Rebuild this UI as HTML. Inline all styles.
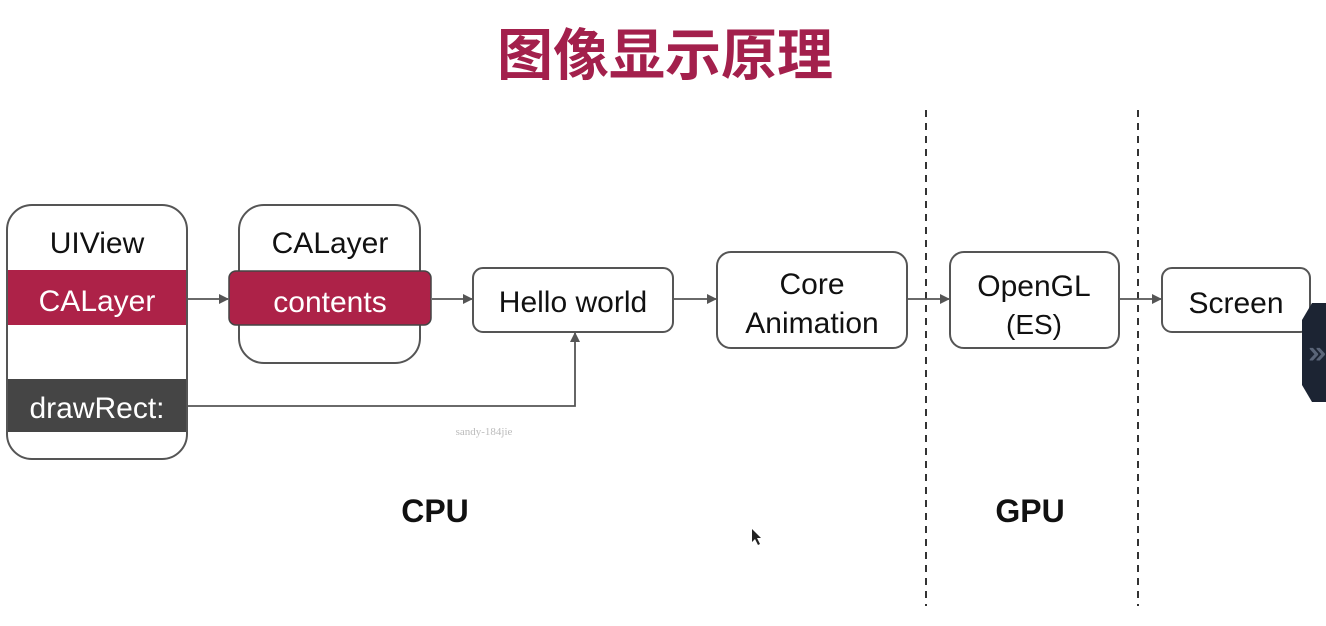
<!DOCTYPE html>
<html><head><meta charset="utf-8"><style>
html,body{margin:0;padding:0;background:#fff;width:1326px;height:626px;overflow:hidden}
svg text{font-family:"Liberation Sans","Noto Sans CJK SC",sans-serif}
</style></head><body>
<svg width="1326" height="626" viewBox="0 0 1326 626" xmlns="http://www.w3.org/2000/svg">
<defs><marker id="a" markerWidth="10" markerHeight="10" refX="9" refY="5" orient="auto" markerUnits="userSpaceOnUse"><path d="M0,0 L10,5 L0,10 z" fill="#555"/></marker></defs>
<rect width="1326" height="626" fill="#fff"/>
<text x="665" y="75" text-anchor="middle" font-size="56" font-weight="600" fill="#a3204c" style="font-family:'Noto Sans CJK SC',sans-serif">图像显示原理</text>
<line x1="926" y1="110" x2="926" y2="606" stroke="#333" stroke-width="2" stroke-dasharray="7,6"/>
<line x1="1138" y1="110" x2="1138" y2="606" stroke="#333" stroke-width="2" stroke-dasharray="7,6"/>
<rect x="7" y="205" width="180" height="254" rx="25" fill="#fff" stroke="#555" stroke-width="2"/>
<rect x="8" y="270" width="178" height="55" fill="#ad2248"/>
<rect x="8" y="379" width="178" height="53" fill="#454545"/>
<text x="97" y="253" text-anchor="middle" font-size="30" fill="#111">UIView</text>
<text x="97" y="311" text-anchor="middle" font-size="30" fill="#fff">CALayer</text>
<text x="97" y="418" text-anchor="middle" font-size="30" fill="#fff">drawRect:</text>
<rect x="239" y="205" width="181" height="158" rx="25" fill="#fff" stroke="#555" stroke-width="2"/>
<rect x="229" y="271" width="202" height="54" rx="7" fill="#ad2248" stroke="#444" stroke-width="1.5"/>
<text x="330" y="253" text-anchor="middle" font-size="30" fill="#111">CALayer</text>
<text x="330" y="312" text-anchor="middle" font-size="30" fill="#fff">contents</text>
<rect x="473" y="268" width="200" height="64" rx="10" fill="#fff" stroke="#555" stroke-width="2"/>
<text x="573" y="312" text-anchor="middle" font-size="30" fill="#111">Hello world</text>
<rect x="717" y="252" width="190" height="96" rx="14" fill="#fff" stroke="#555" stroke-width="2"/>
<text x="812" y="294" text-anchor="middle" font-size="30" fill="#111">Core</text>
<text x="812" y="333" text-anchor="middle" font-size="30" fill="#111">Animation</text>
<rect x="950" y="252" width="169" height="96" rx="14" fill="#fff" stroke="#555" stroke-width="2"/>
<text x="1034" y="296" text-anchor="middle" font-size="30" fill="#111">OpenGL</text>
<text x="1034" y="334" text-anchor="middle" font-size="28" fill="#111">(ES)</text>
<rect x="1162" y="268" width="148" height="64" rx="10" fill="#fff" stroke="#555" stroke-width="2"/>
<text x="1236" y="313" text-anchor="middle" font-size="30" fill="#111">Screen</text>
<g stroke="#555" stroke-width="1.8" fill="none">
<line x1="188" y1="299" x2="228" y2="299" marker-end="url(#a)"/>
<line x1="432" y1="299" x2="472" y2="299" marker-end="url(#a)"/>
<line x1="674" y1="299" x2="716" y2="299" marker-end="url(#a)"/>
<line x1="908" y1="299" x2="949" y2="299" marker-end="url(#a)"/>
<line x1="1120" y1="299" x2="1161" y2="299" marker-end="url(#a)"/>
<polyline points="187,406 575,406 575,333" marker-end="url(#a)"/>
</g>
<text x="484" y="435" text-anchor="middle" font-size="11" fill="#bbb" style="font-family:'Liberation Serif',serif">sandy-184jie</text>
<text x="435" y="522" text-anchor="middle" font-size="32" font-weight="bold" fill="#111">CPU</text>
<text x="1030" y="522" text-anchor="middle" font-size="32" font-weight="bold" fill="#111">GPU</text>
<path d="M752,529 L752,542 L755,539 L758,545 L760,544 L757,538 L761,538 z" fill="#222"/>
<polygon points="1312,303 1326,303 1326,402 1312,402 1302,385 1302,320" fill="#1c2433"/>
<text x="1309" y="362" font-size="30" fill="#5a6578" stroke="#5a6578" stroke-width="1">»</text>
</svg>
</body></html>
